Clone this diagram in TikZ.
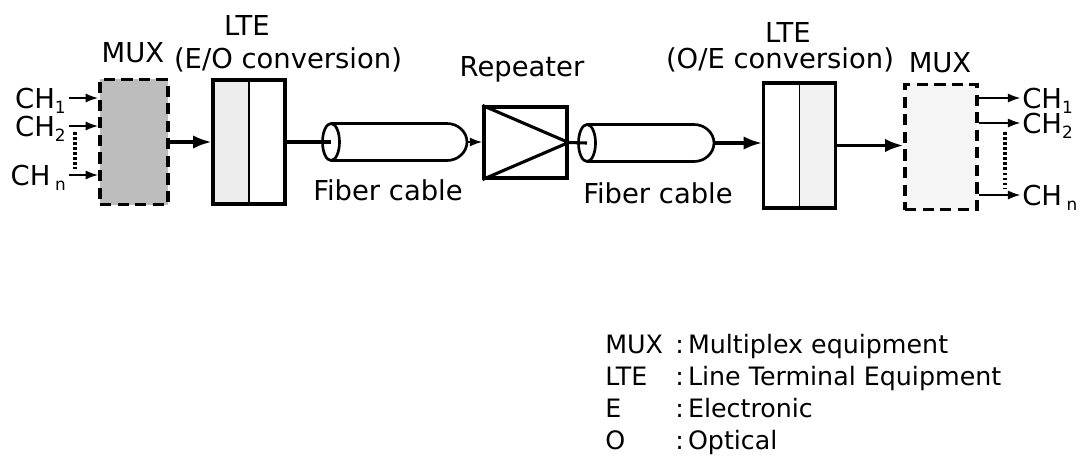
\documentclass[tikz,border=0pt]{standalone}
\usepackage{fontspec}
\setmainfont{DejaVu Sans}
\usetikzlibrary{arrows.meta,positioning}
\newcommand{\chsub}[1]{\raisebox{-0.35ex}{\fontsize{12}{12}\selectfont #1}}
\tikzset{
  lbl/.style={font=\fontsize{19.5}{22}\selectfont,inner sep=0pt},
  chlbl/.style={font=\fontsize{19.5}{22}\selectfont,inner sep=0pt,text depth=0pt},
  muxbox/.style={draw,line width=2.4pt,dash pattern=on 8pt off 4.5pt,
    minimum width=1.7cm,minimum height=3.125cm,inner sep=0pt},
  ltebox/.style={draw,line width=2.2pt,minimum width=1.8cm,
    minimum height=3.1cm,inner sep=0pt},
  repbox/.style={draw,line width=2.2pt,minimum width=2.075cm,
    minimum height=1.775cm,inner sep=0pt},
  sig arrow/.style={-{Latex[length=13pt,width=9.5pt]},line width=2.2pt},
  sig line/.style={line width=2.2pt},
  ch arrow/.style={-{Latex[length=9pt,width=6.5pt]},line width=1.5pt},
  ch dots/.style={line width=2.5pt,dash pattern=on 1.8pt off 1.8pt},
  cable/.style={line width=1.9pt},
  fiber/.pic={
    \coordinate (-in) at (0,0);
    \coordinate (-out) at (#1,0);
    \draw[cable] (0,-18.5) -- (#1-20,-18.5) .. controls (#1-9,-18.5) and (#1,-10) .. (#1,0)
      .. controls (#1,10) and (#1-9,18.5) .. (#1-20,18.5) -- (0,18.5);
    \draw[cable] (0,0) ellipse [x radius=8.5,y radius=18.5];
  }
}

\begin{document}
\begin{tikzpicture}[x=0.025cm,y=-0.025cm]
  \useasboundingbox (0,0) rectangle (1085,462);
  % sending side
  \node[muxbox,fill=black!26] (mux1) at (134,142) {};
  \node[ltebox,path picture={\fill[black!7] (path picture bounding box.north west)
    rectangle (path picture bounding box.south);}] (lte1) at (249,142) {};
  \draw[line width=0.9pt] (lte1.north) -- (lte1.south);
  \node[chlbl,anchor=east] (inA) at (66,98) {CH\chsub{1}};
  \node[chlbl,anchor=east] (inB) at (66,126) {CH\chsub{2}};
  \node[chlbl,anchor=east] (inN) at (66,175) {CH\,\chsub{n}};
  \draw[ch arrow] ([xshift=2pt]inA.east) -- (inA.east -| mux1.west);
  \draw[ch arrow] ([xshift=2pt]inB.east) -- (inB.east -| mux1.west);
  \draw[ch arrow] ([xshift=2pt]inN.east) -- (inN.east -| mux1.west);
  \draw[ch dots] ([shift={(9,6)}]inB.east) -- ([shift={(9,-6)}]inN.east);
  \draw[sig arrow] (mux1.east) -- (lte1.west);
  % line
  \pic (cab1) at (331,142) {fiber=136};
  \node[repbox] (rep) at (525.5,142.5) {};
  \draw[line width=2.2pt] (rep.north west) -- (rep.east) -- (rep.south west);
  \pic (cab2) at (587,143) {fiber=127};
  \draw[sig line] (lte1.east) -- (cab1-in);
  \draw[ch arrow] (cab1-out) -- (cab1-out -| rep.west);
  \draw[sig line] (rep.east) -- (cab2-in);
  % receiving side
  \node[ltebox,minimum height=3.125cm,path picture={\fill[black!5] (path picture bounding box.north)
    rectangle (path picture bounding box.south east);}] (lte2) at (799.5,145.5) {};
  \draw[line width=0.9pt] (lte2.north) -- (lte2.south);
  \node[muxbox,minimum width=1.8cm,fill=black!4] (mux2) at (941,147) {};
  \draw[sig arrow] (cab2-out) -- (cab2-out -| lte2.west);
  \draw[sig arrow] (lte2.east) -- (lte2.east -| mux2.west);
  \node[chlbl,anchor=west] (outA) at (1022,98) {CH\chsub{1}};
  \node[chlbl,anchor=west] (outB) at (1022,123) {CH\chsub{2}};
  \node[chlbl,anchor=west] (outN) at (1022,195) {CH\,\chsub{n}};
  \draw[ch arrow] (outA.west -| mux2.east) -- ([xshift=-1pt]outA.west);
  \draw[ch arrow] (outB.west -| mux2.east) -- ([xshift=-1pt]outB.west);
  \draw[ch arrow] (outN.west -| mux2.east) -- ([xshift=-1pt]outN.west);
  \draw[ch dots] ([shift={(-17,9)}]outB.west) -- ([shift={(-17,-7)}]outN.west);
  % labels
  \node[lbl,anchor=base] (muxlbl1) at (133,62) {MUX};
  \node[lbl,anchor=base] (ltelbl1) at (247,35) {LTE};
  \node[lbl,anchor=base] (eolbl) at (288,68) {(E/O conversion)};
  \node[lbl,anchor=base] (replbl) at (522,76) {Repeater};
  \node[lbl,anchor=base] (fib1) at (388,200) {Fiber cable};
  \node[lbl,anchor=base] (fib2) at (658,203) {Fiber cable};
  \node[lbl,anchor=base] (ltelbl2) at (788,42) {LTE};
  \node[lbl,anchor=base] (oelbl) at (780,68) {(O/E conversion)};
  \node[lbl,anchor=base] (muxlbl2) at (940,72) {MUX};
  % legend
  \node[anchor=base west,inner sep=0pt,font=\fontsize{18}{22.8}\selectfont] (legend) at (605,353)
    {\begin{tabular}[t]{@{}p{1.75cm}@{}l@{}}
      MUX & :\,Multiplex equipment\\
      LTE & :\,Line Terminal Equipment\\
      E   & :\,Electronic\\
      O   & :\,Optical
    \end{tabular}};
\end{tikzpicture}
\end{document}
